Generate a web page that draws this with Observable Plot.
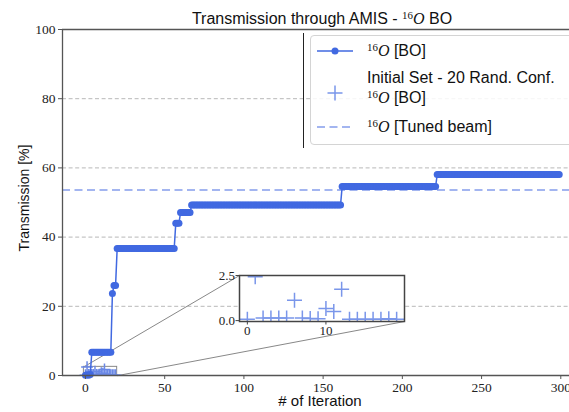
<!DOCTYPE html>
<html><head><meta charset="utf-8">
<script src="https://cdn.jsdelivr.net/npm/d3@7"></script>
<script src="https://cdn.jsdelivr.net/npm/@observablehq/plot@0.6"></script>
<style>
html,body{margin:0;padding:0;background:#fff;overflow:hidden;}
#wrap{position:relative;width:569px;height:412px;overflow:hidden;font-family:"Liberation Sans",sans-serif;color:#111;}
#wrap svg{position:absolute;}
.abs{position:absolute;white-space:nowrap;line-height:18px;}
.O{font-family:"Liberation Serif",serif;font-style:italic;}
.sp{font-family:"Liberation Serif",serif;font-size:0.68em;position:relative;top:-0.5em;}
</style></head><body><div id="wrap"></div>
<script>
// ---- data ----
// BO run: piecewise constant "runs" (first iteration of each run and its value)
const boRunStart = [0, 1, 2, 3, 4, 17, 18, 20, 57, 60, 67, 162, 222];
const boRunValue = [0.1, 0.2, 0.1, 0.3, 6.7, 23.7, 26.0, 36.7, 44.0, 47.1, 49.3, 54.6, 58.1];
const boLastIteration = 299;
// initial set: 20 random configurations
const initIteration = [0, 1, 2, 3, 4, 5, 6, 7, 8, 9, 10, 11, 12, 13, 14, 15, 16, 17, 18, 19];
const initValue = [0.08, 2.43, 0.15, 0.15, 0.15, 0.15, 1.13, 0.15, 0.12, 0.1, 0.67, 0.5, 1.74, 0.07, 0.07, 0.07, 0.07, 0.07, 0.1, 0.07];
const tunedBeam = 53.6;
const xTicks = [0, 50, 100, 150, 200, 250, 300];
const yTicks = [0, 20, 40, 60, 80, 100];
const gridValues = [20, 40, 60, 80];
const insetXTicks = [0, 10];
const insetYTicks = [0, 2.5];
const insetXDomain = [-1, 20];
const insetYDomain = [-0.05, 2.5];

// ---- colours / layout ----
const BLUE = "#4169e1", PLUS = "#7a96ea", TUNED = "#a3b5f0", SPINE = "#555";
const W = 569, H = 412, mL = 62, mR = 0, mT = 29, mB = 37;
const xDomain = [-14.5, 305.5], yDomain = [0, 100];
const inset = {left: 239, top: 275, width: 165, height: 46};

const bo = [];
for (let i = 0; i <= boLastIteration; i++) {
  let k = 0;
  while (k + 1 < boRunStart.length && boRunStart[k + 1] <= i) k++;
  bo.push({it: i, v: boRunValue[k]});
}
const init = initIteration.map((d, i) => ({it: d, v: initValue[i]}));

const invX = p => xDomain[0] + (p - mL) / (W - mL - mR) * (xDomain[1] - xDomain[0]);
const invY = p => yDomain[0] + (H - mB - p) / (H - mT - mB) * (yDomain[1] - yDomain[0]);
const insTL = {x: invX(inset.left), y: invY(inset.top)};
const insBR = {x: invX(inset.left + inset.width), y: invY(inset.top + inset.height)};
const connectors = [
  {x1: insetXDomain[0], y1: insetYDomain[1], x2: insTL.x, y2: insTL.y},
  {x1: insetXDomain[1], y1: insetYDomain[0], x2: insBR.x, y2: insBR.y}
];

const main = Plot.plot({
  width: W, height: H, marginLeft: mL, marginRight: mR, marginTop: mT, marginBottom: mB,
  style: {background: "transparent", color: "#222", fontFamily: "Liberation Serif, serif", fontSize: "13.5px"},
  x: {domain: xDomain},
  y: {domain: yDomain},
  marks: [
    Plot.ruleY(gridValues, {stroke: "#b8b8b8", strokeWidth: 1, strokeDasharray: "4,2.6"}),
    Plot.ruleY([tunedBeam], {stroke: TUNED, strokeWidth: 2, strokeDasharray: "8,4.5"}),
    Plot.rect([{}], {x1: insetXDomain[0], x2: insetXDomain[1], y1: insetYDomain[0], y2: insetYDomain[1], fill: "none", stroke: "#888", strokeWidth: 1}),
    Plot.link(connectors, {x1: "x1", y1: "y1", x2: "x2", y2: "y2", stroke: "#888", strokeWidth: 1}),
    Plot.dot(init, {x: "it", y: "v", symbol: "plus", r: 3.9, stroke: "#6a88e6", strokeWidth: 1.5, clip: true}),
    Plot.line(bo, {x: "it", y: "v", stroke: BLUE, strokeWidth: 1.5}),
    Plot.dot(bo, {x: "it", y: "v", r: 3.5, fill: BLUE, stroke: "none"}),
    Plot.ruleX([xDomain[0]], {stroke: SPINE, strokeWidth: 1.3}),
    Plot.ruleY([yDomain[0], yDomain[1]], {stroke: SPINE, strokeWidth: 1.3}),
    Plot.axisX(xTicks, {label: null, tickSize: 4, tickPadding: 3, stroke: SPINE}),
    Plot.axisY(yTicks, {label: null, tickSize: 4, tickPadding: 3, stroke: SPINE})
  ]
});
main.style.left = "0px"; main.style.top = "0px";
const wrap = document.getElementById("wrap");
wrap.appendChild(main);

// inset
const imL = 26, imR = 3, imT = 3, imB = 17;
const ins = Plot.plot({
  width: inset.width + imL + imR, height: inset.height + imT + imB,
  marginLeft: imL, marginRight: imR, marginTop: imT, marginBottom: imB,
  style: {background: "transparent", color: "#222", fontFamily: "Liberation Serif, serif", fontSize: "13px", overflow: "visible"},
  x: {domain: insetXDomain},
  y: {domain: insetYDomain},
  marks: [
    Plot.frame({fill: "white", stroke: "none"}),
    Plot.dot(init, {x: "it", y: "v", symbol: "plus", r: 4.9, stroke: PLUS, strokeWidth: 1.5, clip: true}),
    Plot.frame({stroke: "#444", strokeWidth: 1.5}),
    Plot.axisX(insetXTicks, {label: null, tickSize: 3.5, tickPadding: 1, stroke: "#444"}),
    Plot.axisY(insetYTicks, {label: null, tickSize: 3.5, tickPadding: 1, stroke: "#444", tickFormat: d3.format(".1f")})
  ]
});
ins.style.left = (inset.left - imL) + "px"; ins.style.top = (inset.top - imT) + "px";
wrap.appendChild(ins);

// texts
const iso = '<span class="sp">16</span><span class="O">O</span>';
function addDiv(html, css) {
  const d = document.createElement("div");
  d.className = "abs"; d.innerHTML = html; d.style.cssText += css;
  wrap.appendChild(d); return d;
}
addDiv("Transmission through AMIS - " + iso + " BO", "left:322px;top:10px;transform:translateX(-50%);font-size:16px;");
addDiv("# of Iteration", "left:320px;top:393px;line-height:15px;transform:translateX(-50%);font-size:15px;");
addDiv("Transmission [%]", "left:24px;top:198px;transform:translate(-50%,-50%) rotate(-90deg);font-size:14px;");

// legend
addDiv("", "left:303px;top:33px;width:0;height:115px;border-left:1px solid #222;");
addDiv("", "left:310px;top:35px;width:290px;height:108px;border:1px solid #d4d4d4;border-radius:4px;background:rgba(255,255,255,0.85);");
const lg = d3.select(wrap).append("svg").attr("width", W).attr("height", H).style("left", "0px").style("top", "0px");
lg.append("line").attr("x1", 317).attr("x2", 353).attr("y1", 51).attr("y2", 51).attr("stroke", BLUE).attr("stroke-width", 1.5);
lg.append("circle").attr("cx", 335).attr("cy", 51).attr("r", 3.5).attr("fill", BLUE);
lg.append("path").attr("d", "M327.5,93H342.5M335,85.5V100.5").attr("stroke", PLUS).attr("stroke-width", 1.5).attr("fill", "none");
lg.append("line").attr("x1", 317).attr("x2", 353).attr("y1", 127).attr("y2", 127).attr("stroke", TUNED).attr("stroke-width", 2).attr("stroke-dasharray", "8,4.5");
addDiv(iso + " [BO]", "left:367px;top:42px;font-size:16px;");
addDiv("Initial Set - 20 Rand. Conf.", "left:367px;top:69px;font-size:16px;");
addDiv(iso + " [BO]", "left:367px;top:89px;font-size:16px;");
addDiv(iso + " [Tuned beam]", "left:367px;top:118px;font-size:16px;");
</script></body></html>
